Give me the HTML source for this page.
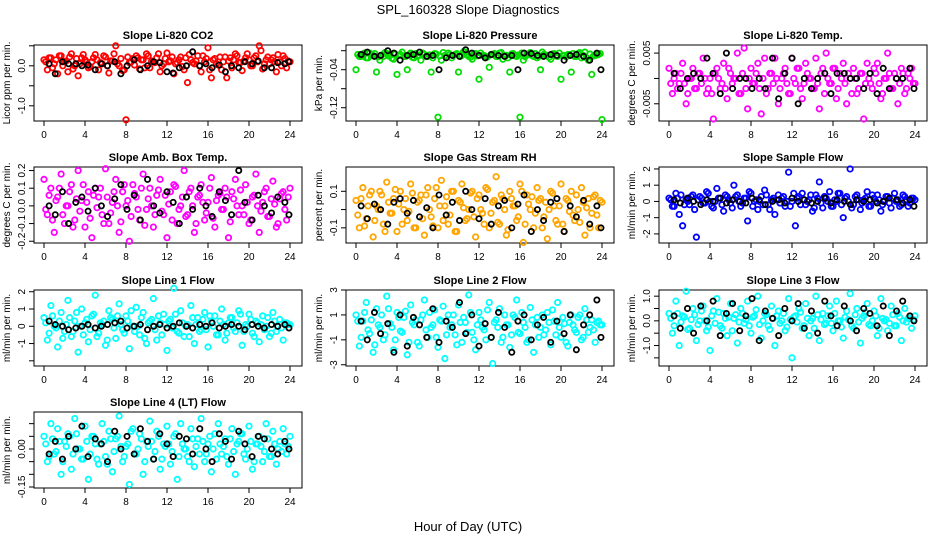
<!DOCTYPE html>
<html><head><meta charset="utf-8"><style>
body{margin:0;background:#fff;}
svg{display:block;font-family:"Liberation Sans",Arial,sans-serif;}
</style></head><body>
<svg id="c" width="936" height="540" xmlns="http://www.w3.org/2000/svg">
<text x="468" y="14" text-anchor="middle" font-size="13">SPL_160328  Slope Diagnostics</text>
<text x="468" y="531" text-anchor="middle" font-size="13">Hour of Day (UTC)</text>
</svg>
<script>
const hoursA=[0,0.33,0.67,1,1.33,1.67,2,2.33,2.67,3,3.33,3.67,4,4.33,4.67,5,5.33,5.67,6,6.33,6.67,7,7.33,7.67,8,8.33,8.67,9,9.33,9.67,10,10.33,10.67,11,11.33,11.67,12,12.33,12.67,13,13.33,13.67,14,14.33,14.67,15,15.33,15.67,16,16.33,16.67,17,17.33,17.67,18,18.33,18.67,19,19.33,19.67,20,20.33,20.67,21,21.33,21.67,22,22.33,22.67,23,23.33,23.67,24];
const hoursC=[0.17,0.5,0.83,1.17,1.5,1.83,2.17,2.5,2.83,3.17,3.5,3.83,4.17,4.5,4.83,5.17,5.5,5.83,6.17,6.5,6.83,7.17,7.5,7.83,8.17,8.5,8.83,9.17,9.5,9.83,10.17,10.5,10.83,11.17,11.5,11.83,12.17,12.5,12.83,13.17,13.5,13.83,14.17,14.5,14.83,15.17,15.5,15.83,16.17,16.5,16.83,17.17,17.5,17.83,18.17,18.5,18.83,19.17,19.5,19.83,20.17,20.5,20.83,21.17,21.5,21.83,22.17,22.5,22.83,23.17,23.5,23.83];
const hoursB=[0.5,1.1,1.8,2.4,3.1,3.7,4.3,5,5.6,6.2,6.9,7.5,8.1,8.8,9.4,10.1,10.7,11.3,12,12.6,13.2,13.9,14.5,15.2,15.8,16.4,17.1,17.7,18.3,19,19.6,20.3,20.9,21.5,22.2,22.8,23.5,23.9];
const xTicks=[0,4,8,12,16,20,24];
const titles=["Slope Li-820 CO2","Slope Li-820 Pressure","Slope Li-820 Temp.","Slope Amb. Box Temp.","Slope Gas Stream RH","Slope Sample Flow","Slope Line 1 Flow","Slope Line 2 Flow","Slope Line 3 Flow","Slope Line 4 (LT) Flow"];
const yTitles=["Licor ppm per min.","kPa per min.","degrees C per min.","degrees C per min.","percent per min.","ml/min per min.","ml/min per min.","ml/min per min.","ml/min per min.","ml/min per min."];
const colors=["#ff0000","#00dd00","#ff00ff","#ff00ff","#ffa500","#0000ff","#00ffff","#00ffff","#00ffff","#00ffff"];
const yLims=[[-1.38,0.52],[-0.148,0.012],[-0.0084,0.0066],[-0.21,0.22],[-0.183,0.233],[-2.56,2.12],[-2.3,2.1],[-3.1,3.0],[-1.83,1.25],[-0.154,0.146]];
const yTicks=[[0.5,0,-0.5,-1],[0,-0.04,-0.08,-0.12],[0.005,0,-0.005],[0.2,0.1,0,-0.1,-0.2],[0.1,0,-0.1],[2,1,0,-1,-2],[2,1,0,-1,-2],[3,1,-1,-3],[1,0.5,0,-0.5,-1,-1.5],[0.1,0.05,0,-0.05,-0.1,-0.15]];
const yLabels=[["","0.0","","-1.0"],["","-0.04","","-0.12"],["0.005","","-0.005"],["0.2","0.1","0.0","-0.1","-0.2"],["0.1","","-0.1"],["2","1","0","-1","-2"],["2","1","0","-1",""],["3","1","-1","-3"],["1.0","","0.0","","-1.0",""],["","","0.00","","","-0.15"]];
const colVals=[
[0.15,-0.1,0.2,0.05,-0.2,0.25,0.1,-0.15,0.3,0.0,-0.25,0.2,0.15,-0.05,0.1,0.28,-0.1,0.05,0.22,-0.18,0.12,0.5,0.0,-0.12,-1.35,0.08,0.18,0.25,-0.08,0.15,0.3,-0.05,0.1,0.2,-0.15,0.05,0.32,0.12,-0.2,0.08,0.22,-0.1,-0.42,0.15,0.05,0.25,-0.15,0.1,0.45,-0.3,0.18,0.02,-0.1,0.22,0.12,-0.05,0.3,0.08,-0.12,0.2,0.15,0.0,0.25,0.5,-0.08,0.15,0.05,0.2,-0.15,0.1,0.25,-0.05,0.1],
[-0.04,-0.012,-0.008,-0.015,-0.005,-0.01,-0.045,-0.02,-0.012,-0.006,-0.01,-0.018,-0.05,-0.008,-0.012,-0.04,-0.005,-0.015,-0.01,-0.02,-0.008,-0.012,-0.045,-0.006,-0.14,-0.02,-0.01,-0.005,-0.015,-0.008,-0.045,-0.01,-0.003,-0.012,-0.018,-0.006,-0.06,-0.01,-0.015,-0.035,-0.008,-0.012,-0.005,-0.018,-0.01,-0.045,-0.006,-0.012,-0.14,-0.02,-0.008,-0.004,-0.012,-0.015,-0.04,-0.008,-0.01,-0.018,-0.006,-0.012,-0.06,-0.01,-0.008,-0.045,-0.012,-0.006,-0.015,-0.003,-0.02,-0.05,-0.01,-0.008,-0.145],
[0.002,-0.003,0.001,-0.001,0.003,-0.005,0.0,0.002,-0.002,0.001,0.004,-0.003,0.0,-0.008,0.002,-0.002,0.003,-0.004,0.001,0.0,0.005,-0.003,0.006,-0.006,0.002,-0.001,0.003,-0.007,0.004,-0.002,0.001,0.004,-0.005,0.0,0.002,-0.003,0.004,-0.001,0.002,-0.004,0.003,0.0,-0.002,0.004,-0.006,0.002,0.005,-0.001,0.002,-0.004,0.001,0.003,-0.005,0.0,0.002,-0.003,0.001,-0.008,0.003,-0.001,0.002,0.003,-0.004,0.0,0.005,-0.002,0.001,-0.005,0.002,-0.003,0.001,0.002,-0.001],
[0.15,-0.05,0.1,-0.15,0.05,0.18,-0.1,0.0,0.12,-0.08,0.2,0.03,-0.12,0.08,-0.18,0.1,0.05,-0.05,0.21,-0.1,0.02,0.15,-0.15,0.08,0.0,-0.2,0.12,0.05,-0.08,0.18,-0.02,0.1,-0.12,0.06,0.15,-0.05,-0.18,0.08,0.12,-0.1,0.0,0.2,-0.05,0.1,-0.15,0.05,0.12,-0.08,0.02,0.16,-0.12,0.06,-0.02,0.1,-0.18,0.08,0.15,-0.05,0.0,0.12,-0.1,0.05,0.18,-0.15,0.02,0.1,-0.06,0.14,-0.12,0.04,0.08,-0.08,0.1],
[0.05,-0.1,0.12,-0.05,0.08,-0.15,0.02,0.1,-0.08,0.15,-0.02,0.06,-0.12,0.1,0.0,-0.06,0.14,-0.1,0.04,0.08,-0.14,0.12,-0.04,0.06,-0.1,0.16,0.02,-0.08,0.1,-0.12,0.05,0.14,-0.06,0.0,0.1,-0.15,0.08,-0.02,0.12,-0.1,0.04,0.18,-0.08,0.06,-0.14,0.1,0.02,-0.06,0.14,-0.18,0.08,0.0,-0.1,0.12,0.06,-0.04,-0.16,0.1,0.02,-0.08,0.14,-0.12,0.05,0.1,-0.06,0.0,0.12,-0.14,0.06,-0.02,0.08,-0.1,0.04],
[0.2,-0.3,0.5,-0.8,-1.5,0.1,-0.2,0.4,-2.2,0.3,-0.1,0.6,0.0,-0.4,0.8,0.2,-0.6,0.3,-0.1,1.0,0.4,-0.3,0.2,-1.2,0.5,0.0,-0.5,0.3,0.7,-0.2,0.1,-0.8,0.4,0.2,-0.3,1.8,0.0,-1.5,0.3,0.5,-0.2,0.1,-0.6,0.4,1.2,-0.4,0.2,0.6,-0.3,0.0,0.5,-1.0,0.3,2.0,-0.2,0.4,-0.5,0.1,0.6,-0.3,0.2,0.4,-0.6,0.0,0.3,-0.4,0.5,0.1,-0.2,0.3,-0.3,0.2,0.1],
[0.5,-0.8,1.2,0.0,-1.2,0.8,-0.3,1.5,-0.6,0.3,-1.5,1.0,0.2,-0.9,0.6,1.8,-0.4,0.1,-1.1,0.9,0.4,-0.7,1.3,-0.2,0.6,-1.3,0.0,1.1,-0.5,0.8,-1.0,0.3,1.6,-0.8,0.2,0.7,-1.4,0.4,2.2,-0.3,0.9,-0.6,0.1,1.2,-1.0,0.5,-0.2,0.8,-1.2,0.3,0.6,-0.5,1.0,-0.8,0.2,0.5,-0.3,0.9,-1.1,0.1,0.7,-0.4,0.3,-0.9,0.6,0.0,-0.6,0.8,-0.3,0.4,-0.8,0.2,0.1],
[1.0,-1.5,0.5,2.0,-0.5,-2.0,1.5,0.0,-1.0,2.5,0.3,-1.8,1.2,-0.3,0.8,-2.2,1.8,0.2,-1.2,0.6,2.2,-0.8,0.0,1.4,-1.6,0.5,-2.5,1.0,0.2,-0.6,1.8,-1.2,0.4,2.6,-0.4,-1.8,1.2,0.0,-1.0,2.0,-2.9,0.6,1.5,-0.8,0.2,-1.6,1.0,2.2,-0.5,0.4,-1.2,1.6,-2.0,0.8,0.0,-0.6,1.2,-1.4,0.5,2.0,-0.8,0.3,-1.5,1.0,-0.2,0.8,-1.0,1.5,-0.4,0.6,-1.2,0.5,0.2],
[0.3,-0.5,0.8,-1.0,0.2,1.2,-0.3,0.5,-0.8,0.0,0.6,-0.4,-1.2,0.4,0.9,-0.2,0.3,-0.6,0.7,0.1,-0.9,0.5,-0.1,0.8,-0.5,0.2,1.0,-0.7,0.3,-0.2,0.6,-1.0,0.4,0.0,-0.4,0.9,-1.5,0.2,0.5,-0.3,0.7,-0.6,0.1,1.0,-0.8,0.3,-0.1,0.6,-0.4,0.8,0.0,-0.7,0.4,1.1,-0.3,0.5,-0.9,0.2,0.7,-0.2,0.4,-0.6,0.9,0.0,-0.4,0.6,-0.2,0.3,-0.8,0.5,0.1,-0.3,0.2],
[0.05,-0.05,0.1,-0.02,0.08,-0.1,0.03,0.06,-0.08,0.12,0.0,-0.04,0.09,-0.12,0.05,0.02,-0.06,0.1,-0.03,0.07,-0.09,0.04,0.13,-0.05,0.01,-0.14,0.08,-0.02,0.06,-0.1,0.03,0.11,-0.04,0.07,-0.08,0.02,0.09,-0.06,0.05,-0.12,0.1,0.0,-0.03,0.08,-0.07,0.04,0.12,-0.05,0.02,-0.09,0.06,0.1,-0.02,0.04,-0.06,0.08,-0.1,0.03,0.06,-0.04,0.09,-0.08,0.02,0.05,-0.05,0.1,-0.03,0.07,-0.06,0.03,0.08,-0.02,0.05]];
const colVals2=[
[0.1,0.2,-0.05,0.15,0.25,0.0,0.12,0.22,-0.08,0.18,0.05,0.28,0.1,-0.02,0.2,0.15,0.08,0.25,0.0,0.12,0.3,0.05,0.18,-0.1,0.22,0.1,0.02,0.2,0.15,-0.05,0.25,0.12,0.08,0.3,0.0,0.18,0.1,0.22,0.05,0.15,-0.02,0.2,0.28,0.08,0.12,0.0,0.25,0.18,-0.1,0.15,0.05,0.22,0.1,-0.3,0.2,0.15,0.25,0.08,0.12,0.3,0.0,0.2,0.1,0.38,0.05,0.22,0.15,0.1,0.28,0.0,0.18,0.12],
[-0.008,-0.012,-0.005,-0.015,-0.01,-0.006,-0.013,-0.009,-0.004,-0.011,-0.016,-0.007,-0.01,-0.003,-0.012,-0.008,-0.014,-0.006,-0.01,-0.005,-0.012,-0.009,-0.015,-0.007,-0.011,-0.004,-0.013,-0.008,-0.01,-0.006,-0.012,-0.002,-0.009,-0.014,-0.007,-0.011,-0.005,-0.01,-0.013,-0.008,-0.006,-0.012,-0.004,-0.01,-0.015,-0.007,-0.011,-0.009,-0.005,-0.013,-0.008,-0.01,-0.006,-0.012,-0.003,-0.009,-0.014,-0.007,-0.011,-0.005,-0.01,-0.013,-0.008,-0.006,-0.012,-0.004,-0.01,-0.015,-0.007,-0.011,-0.009,-0.006],
[-0.001,0.0,-0.002,0.001,-0.001,-0.003,0.0,-0.002,0.001,-0.001,0.0,-0.002,-0.003,0.001,0.0,-0.001,-0.002,0.002,-0.001,0.0,-0.003,0.001,-0.002,0.0,-0.001,0.001,-0.002,0.0,-0.003,0.001,-0.001,0.0,-0.002,0.001,-0.001,-0.003,0.0,0.002,-0.002,-0.001,0.001,0.0,-0.002,-0.001,0.001,-0.003,0.0,-0.001,0.002,-0.002,0.0,-0.001,0.001,-0.003,0.0,-0.002,0.001,-0.001,0.0,-0.002,0.001,-0.001,-0.003,0.0,0.001,-0.002,0.0,-0.001,0.001,-0.002,0.0,-0.001],
[-0.02,0.06,-0.08,0.03,0.1,-0.05,0.0,0.08,-0.12,0.04,-0.03,0.12,0.02,-0.07,0.06,-0.01,0.1,-0.1,0.05,-0.04,0.08,0.0,-0.09,0.12,0.03,-0.06,0.07,-0.02,0.1,-0.11,0.04,0.0,-0.05,0.09,-0.03,0.06,0.01,-0.08,0.11,-0.02,0.05,-0.06,0.08,0.0,-0.1,0.06,0.02,-0.04,0.1,-0.07,0.03,0.07,-0.02,0.05,-0.09,0.04,0.0,0.09,-0.05,0.02,-0.08,0.06,0.0,-0.03,0.08,-0.06,0.04,0.01,-0.1,0.07,-0.02,0.05],
[-0.03,0.06,-0.09,0.02,0.1,-0.06,0.0,0.08,-0.12,0.04,-0.02,0.11,0.03,-0.08,0.06,-0.01,0.09,-0.1,0.05,-0.05,0.08,0.0,-0.09,0.12,0.02,-0.06,0.07,-0.03,0.1,-0.12,0.04,0.01,-0.05,0.09,-0.04,0.06,0.0,-0.08,0.11,-0.02,0.05,-0.07,0.08,0.0,-0.11,0.06,0.02,-0.04,0.1,-0.08,0.03,0.07,-0.02,0.05,-0.1,0.04,0.0,0.09,-0.06,0.02,-0.08,0.06,-0.01,-0.03,0.08,-0.07,0.04,0.01,-0.1,0.07,-0.03,0.05],
[0.1,-0.3,0.2,0.4,-0.2,0.0,0.3,-0.5,0.1,0.2,-0.1,0.5,-0.3,0.0,0.2,-0.2,0.4,0.1,-0.4,0.3,0.0,-0.1,0.2,0.6,-0.3,0.1,0.0,-0.2,0.4,-0.5,0.2,0.1,-0.1,0.3,0.0,-0.3,0.5,0.2,-0.2,0.1,0.0,0.4,-0.4,0.2,-0.1,0.3,0.0,-0.3,0.1,0.5,-0.2,0.2,0.0,-0.4,0.3,0.1,-0.1,0.2,-0.3,0.4,0.0,0.1,-0.2,0.3,-0.1,0.2,0.0,-0.3,0.4,0.1,-0.1,0.2],
[0.2,-0.4,0.6,-0.1,0.3,-0.7,0.1,0.5,-0.3,0.8,0.0,-0.5,0.4,-0.2,0.7,-0.6,0.2,0.3,-0.8,0.5,-0.1,0.6,0.1,-0.4,0.3,0.9,-0.3,0.0,0.5,-0.7,0.2,0.4,-0.2,0.6,-0.5,0.1,0.3,-0.1,0.7,-0.4,0.2,0.0,-0.6,0.5,0.1,-0.3,0.4,-0.2,0.6,0.0,-0.5,0.3,0.1,-0.4,0.5,-0.1,0.2,0.7,-0.3,0.0,0.4,-0.6,0.2,0.1,-0.2,0.5,-0.4,0.3,0.0,-0.1,0.2,0.1],
[0.5,-0.8,1.2,-0.2,0.6,-1.4,0.2,1.0,-0.6,1.5,0.0,-1.0,0.8,-0.4,1.3,-1.2,0.4,0.6,-1.5,1.0,-0.2,1.2,0.2,-0.8,0.6,1.7,-0.6,0.0,1.0,-1.4,0.4,0.8,-0.4,1.2,-1.0,0.2,0.6,-0.2,1.4,-0.8,0.4,0.0,-1.2,1.0,0.2,-0.6,0.8,-0.4,1.2,0.0,-1.0,0.6,0.2,-0.8,1.0,-0.2,0.4,1.4,-0.6,0.0,0.8,-1.2,0.4,0.2,-0.4,1.0,-0.8,0.6,0.0,-0.2,0.4,0.2],
[0.1,-0.2,0.3,-0.05,0.15,-0.35,0.05,0.25,-0.15,0.4,0.0,-0.25,0.2,-0.1,0.35,-0.3,0.1,0.15,-0.4,0.25,-0.05,0.3,0.05,-0.2,0.15,0.45,-0.15,0.0,0.25,-0.35,0.1,0.2,-0.1,0.3,-0.25,0.05,0.15,-0.05,0.35,-0.2,0.1,0.0,-0.3,0.25,0.05,-0.15,0.2,-0.1,0.3,0.0,-0.25,0.15,0.05,-0.2,0.25,-0.05,0.1,0.35,-0.15,0.0,0.2,-0.3,0.1,0.05,-0.1,0.25,-0.2,0.15,0.0,-0.05,0.1,0.05],
[0.02,-0.03,0.04,-0.01,0.03,-0.05,0.01,0.05,-0.02,0.06,0.0,-0.04,0.03,-0.02,0.05,-0.04,0.02,0.03,-0.06,0.04,-0.01,0.05,0.01,-0.03,0.02,0.07,-0.02,0.0,0.04,-0.05,0.01,0.03,-0.01,0.05,-0.04,0.01,0.02,-0.01,0.06,-0.03,0.02,0.0,-0.05,0.04,0.01,-0.02,0.03,-0.02,0.05,0.0,-0.04,0.02,0.01,-0.03,0.04,-0.01,0.02,0.06,-0.02,0.0,0.03,-0.05,0.02,0.01,-0.01,0.04,-0.03,0.02,0.0,-0.01,0.02,0.01]];
const blkVals=[
[0.05,-0.2,0.1,0.05,0.05,0.0,0.02,-0.1,0.05,0.0,0.1,-0.2,0.0,0.15,-0.1,0.0,0.1,0.08,-0.15,-0.18,-0.05,0.0,0.35,0.0,0.05,-0.05,0.02,-0.15,0.0,-0.05,0.1,0.05,0.12,-0.05,-0.05,0.08,0.05,0.1],
[-0.008,-0.003,-0.012,-0.01,0.0,-0.005,-0.02,-0.01,-0.008,-0.003,-0.012,-0.01,-0.04,-0.015,-0.01,-0.012,0.002,-0.005,-0.01,-0.015,-0.008,-0.01,-0.012,-0.01,-0.04,-0.005,-0.006,-0.01,-0.012,-0.008,-0.01,-0.02,-0.01,-0.008,-0.012,-0.02,-0.005,-0.04],
[0.001,-0.002,0.0,0.001,0.0,0.004,0.001,-0.003,0.005,-0.002,0.0,0.0,-0.002,0.0,-0.002,0.004,-0.004,0.001,0.004,-0.005,0.0,-0.002,0.0,0.001,-0.003,0.001,0.001,0.0,0.0,-0.002,0.001,-0.003,0.002,-0.002,0.0,0.0,0.002,-0.002],
[0.0,-0.05,0.08,-0.1,0.02,0.05,-0.03,0.1,0.0,-0.06,0.04,0.12,-0.02,0.06,-0.08,0.15,0.0,-0.04,0.08,0.02,-0.1,0.05,-0.02,0.1,0.0,-0.06,0.08,0.03,-0.05,0.2,0.02,-0.08,0.06,0.0,-0.04,0.05,0.02,-0.05],
[0.02,-0.05,0.03,0.0,-0.08,0.04,0.06,-0.02,0.05,-0.04,0.01,-0.1,0.08,-0.03,0.04,-0.06,0.1,0.0,-0.05,0.06,-0.08,0.02,0.05,-0.1,0.03,0.08,-0.12,0.0,-0.06,0.04,0.06,-0.12,0.02,-0.04,0.05,-0.08,0.02,-0.1],
[0.1,-0.1,0.2,0.0,-0.2,0.1,0.0,0.2,-0.1,0.1,0.0,-0.1,0.2,0.1,-0.2,0.0,0.1,-0.1,0.2,0.0,0.1,-0.1,0.0,0.2,-0.1,0.1,0.0,-0.2,0.1,0.0,0.1,-0.1,0.0,0.2,0.1,-0.1,0.1,-0.3],
[0.3,0.1,0.0,-0.2,-0.1,0.0,0.1,-0.1,0.0,0.1,0.2,0.3,-0.1,0.0,0.1,-0.2,0.0,0.1,-0.1,0.0,0.2,0.0,-0.1,0.1,0.0,0.2,-0.1,0.0,0.1,0.0,-0.2,0.1,0.0,-0.1,0.1,0.0,0.1,-0.1],
[0.5,-1.0,1.2,-0.5,0.3,-2.0,1.0,-1.5,0.8,0.2,-0.8,1.5,-1.2,0.5,0.0,2.0,-0.5,1.0,-1.5,0.3,-0.8,1.2,0.0,-2.0,0.5,1.0,-1.0,0.2,0.8,-1.2,0.5,-0.5,1.0,-1.8,0.2,1.0,2.2,-0.8],
[0.2,-0.3,0.5,-0.5,0.6,0.0,0.8,-0.6,0.3,0.7,-0.4,0.2,0.9,-0.8,0.4,0.1,-0.6,0.5,0.0,0.7,-0.3,0.4,-0.5,0.8,0.2,-0.2,0.6,0.0,-0.4,0.5,0.3,-0.2,0.6,-0.6,0.4,0.8,0.2,0.0],
[-0.02,0.03,-0.04,0.05,0.0,0.09,-0.03,0.04,0.02,-0.05,0.07,0.0,0.05,-0.02,0.08,0.03,-0.04,0.06,0.02,-0.03,0.05,0.04,-0.02,0.08,0.0,-0.05,0.06,0.03,-0.04,0.07,0.02,-0.03,0.05,0.04,0.0,-0.02,0.03,0.0]];

const NS="http://www.w3.org/2000/svg";
const svg=document.getElementById('c');
function mk(tag,attrs,parent){const e=document.createElementNS(NS,tag);for(const k in attrs)e.setAttribute(k,attrs[k]);(parent||svg).appendChild(e);return e;}
const colX=[34,346,659], boxW=268, rowY=[45,167,290,412], boxH=76;
for(let p=0;p<10;p++){
  const bx=colX[p%3], by=rowY[Math.floor(p/3)];
  const g=mk('g',{});
  
  
  const xs=h=>bx+10+h*(boxW-22)/24;
  const [lo,hi]=yLims[p];
  const ys=v=>by+boxH-(v-lo)/(hi-lo)*boxH;
  const t=mk('text',{x:bx+boxW/2,y:by-6,'text-anchor':'middle','font-size':'11','font-weight':'bold'},g);
  t.textContent=titles[p];
  
  
  const r=mk('rect',{x:bx,y:by,width:boxW,height:boxH,fill:'none',stroke:'#000','stroke-width':1},g);
  
  
  xTicks.forEach(h=>{
    mk('line',{x1:xs(h),x2:xs(h),y1:by+boxH,y2:by+boxH+5,stroke:'#000'},g);
    const l=mk('text',{x:xs(h),y:by+boxH+17,'text-anchor':'middle','font-size':'10'},g);
    l.textContent=h;
    
    
  });
  yTicks[p].forEach((v,i)=>{
    const y=ys(v);
    mk('line',{x1:bx-5,x2:bx,y1:y,y2:y,stroke:'#000'},g);
    if(yLabels[p][i]){
      const l=mk('text',{x:bx-9,y:y,'text-anchor':'middle','font-size':'10',transform:`rotate(-90 ${bx-9} ${y})`},g);
      l.textContent=yLabels[p][i];
      
      
    }
  });
  const yt=mk('text',{x:bx-24,y:by+boxH/2,'text-anchor':'middle','font-size':'10',transform:`rotate(-90 ${bx-24} ${by+boxH/2})`},g);
  yt.textContent=yTitles[p];
  
  
  const cv=colVals[p];
  for(let i=0;i<Math.min(cv.length,hoursA.length);i++){
    const c=mk('circle',{cx:xs(hoursA[i]),cy:ys(cv[i]),r:2.7,fill:'none',stroke:colors[p],'stroke-width':1.8},g);
    
    
  }
  const cv2=colVals2[p];
  for(let i=0;i<Math.min(cv2.length,hoursC.length);i++){
    const c=mk('circle',{cx:xs(hoursC[i]),cy:ys(cv2[i]),r:2.7,fill:'none',stroke:colors[p],'stroke-width':1.8},g);
    
    
  }
  const bv=blkVals[p];
  for(let i=0;i<Math.min(bv.length,hoursB.length);i++){
    const c=mk('circle',{cx:xs(hoursB[i]),cy:ys(bv[i]),r:2.6,fill:'none',stroke:'#000','stroke-width':1.8},g);
    
    
  }
}
</script>
</body></html>
